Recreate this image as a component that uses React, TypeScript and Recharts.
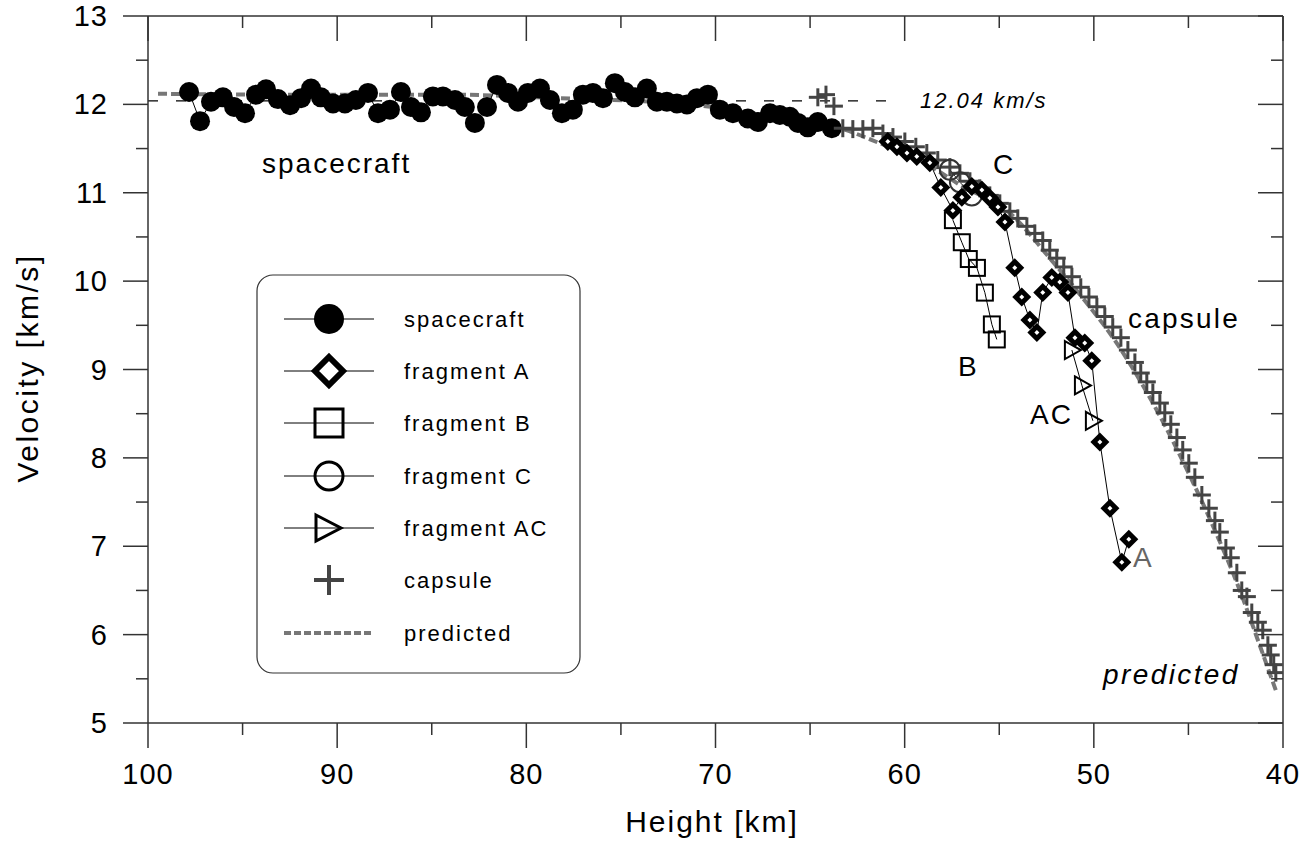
import React from "react";
import { ComposedChart, XAxis, YAxis, Scatter, Line, ReferenceLine } from "recharts";

const FONT = "'Liberation Sans', Arial, sans-serif";

const xTicks = [100, 95, 90, 85, 80, 75, 70, 65, 60, 55, 50, 45, 40];
const yTicks = [5, 5.5, 6, 6.5, 7, 7.5, 8, 8.5, 9, 9.5, 10, 10.5, 11, 11.5, 12, 12.5, 13];

const spacecraftH = [
  97.83, 97.25, 96.67, 96.04, 95.45, 94.87, 94.29, 93.76, 93.13, 92.49, 91.91, 91.38, 90.86, 90.22,
  89.59, 89.01, 88.37, 87.84, 87.21, 86.63, 86.1, 85.57, 84.94, 84.41, 83.77, 83.25, 82.72, 82.08,
  81.55, 80.97, 80.44, 79.92, 79.28, 78.75, 78.12, 77.54, 77.01, 76.48, 75.95, 75.32, 74.79, 74.26,
  73.63, 73.1, 72.57, 72.04, 71.51, 70.98, 70.4, 69.77, 69.08, 68.29, 67.76, 67.12, 66.6, 66.07,
  65.64, 65.12, 64.59, 63.85,
];
const spacecraftV = [
  12.14, 11.81, 12.03, 12.08, 11.97, 11.9, 12.11, 12.17, 12.06, 11.99, 12.07, 12.18, 12.08, 12.01,
  12.01, 12.05, 12.13, 11.9, 11.94, 12.14, 11.97, 11.91, 12.09, 12.09, 12.05, 11.97, 11.79, 11.97,
  12.22, 12.13, 12.03, 12.13, 12.18, 12.05, 11.9, 11.94, 12.11, 12.13, 12.07, 12.24, 12.14, 12.08,
  12.18, 12.03, 12.03, 12.01, 12.0, 12.07, 12.11, 11.94, 11.9, 11.84, 11.8, 11.9, 11.88, 11.86,
  11.79, 11.74, 11.8, 11.73,
];

const fragAH = [
  60.89, 60.41, 59.88, 59.36, 58.67, 58.09, 57.45, 56.98, 56.45, 55.92, 55.5, 55.07, 54.7, 54.18,
  53.81, 53.38, 53.01, 52.7, 52.22, 51.8, 51.37, 51.0, 50.48, 50.11, 49.68, 49.15, 48.52, 48.15,
];
const fragAV = [
  11.58, 11.52, 11.45, 11.41, 11.34, 11.06, 10.8, 10.95, 11.07, 11.03, 10.94, 10.84, 10.67, 10.15,
  9.82, 9.56, 9.42, 9.87, 10.04, 9.99, 9.87, 9.36, 9.3, 9.1, 8.18, 7.43, 6.82, 7.08,
];

const fragBH = [57.45, 56.98, 56.61, 56.18, 55.76, 55.39, 55.13];
const fragBV = [10.69, 10.44, 10.25, 10.15, 9.87, 9.51, 9.34];

const fragCH = [57.61, 57.08, 56.45];
const fragCV = [11.26, 11.12, 10.97];

const fragACH = [51.16, 50.63, 50.05];
const fragACV = [9.22, 8.82, 8.42];

const capsuleH = [
  64.59, 64.16, 63.74, 63.27, 62.74, 62.21, 61.68, 61.15, 60.62, 59.99, 59.41, 58.83, 58.25, 57.61,
  57.08, 56.55, 56.03, 55.5, 54.97, 54.44, 54.02, 53.54, 53.12, 52.7, 52.33, 51.96, 51.59, 51.16,
  50.69, 50.26, 49.84, 49.42, 49.0, 48.57, 48.2, 47.83, 47.52, 47.2, 46.88, 46.51, 46.25, 45.93,
  45.61, 45.3, 44.98, 44.66, 44.29, 43.92, 43.6, 43.34, 43.02, 42.76, 42.44, 42.18, 41.91, 41.65,
  41.33, 41.07, 40.8, 40.65, 40.49, 40.38,
];
const capsuleV = [
  12.08, 12.11, 11.98, 11.73, 11.72, 11.72, 11.73, 11.67, 11.63, 11.58, 11.52, 11.45, 11.37, 11.29,
  11.22, 11.13, 11.05, 10.97, 10.88, 10.79, 10.71, 10.62, 10.54, 10.46, 10.35, 10.26, 10.16, 10.05,
  9.93, 9.82, 9.71, 9.6, 9.48, 9.36, 9.22, 9.08, 8.96, 8.86, 8.74, 8.62, 8.51, 8.38,
  8.23, 8.09, 7.94, 7.78, 7.58, 7.43, 7.29, 7.16, 6.98, 6.87, 6.7, 6.5, 6.43, 6.25,
  6.14, 6.05, 5.88, 5.77, 5.66, 5.57,
];

const predictedH = [
  99.47, 91.97, 84.04, 78.22, 71.35, 69.24, 66.07, 63.43, 61.31, 59.2, 57.08, 54.44, 52.33, 50.48,
  48.89, 47.57, 46.25, 44.93, 43.6, 42.28, 41.23, 40.38,
];
const predictedV = [
  12.12, 12.11, 12.11, 12.07, 12.0, 11.94, 11.82, 11.73, 11.56, 11.37, 11.09, 10.77, 10.26, 9.78,
  9.33, 8.88, 8.37, 7.8, 7.18, 6.5, 5.88, 5.37,
];

const entryVelocity = 12.04;
const entryLineH = [100, 60.5];

const pts = (hs: number[], vs: number[]) => hs.map((h, i) => ({ h, v: vs[i] }));

const spacecraftData = pts(spacecraftH, spacecraftV);
const fragAData = pts(fragAH, fragAV);
const fragBData = pts(fragBH, fragBV);
const fragCData = pts(fragCH, fragCV);
const fragACData = pts(fragACH, fragACV);
const capsuleData = pts(capsuleH, capsuleV);
const predictedData = pts(predictedH, predictedV);

const AXIS = "#333";

// marker shapes
const Dot = ({ cx, cy }: any) => <circle cx={cx} cy={cy} r={10} fill="#000" />;
const Diamond = ({ cx, cy }: any) => (
  <g>
    <polygon points={`${cx},${cy - 9.5} ${cx + 9.5},${cy} ${cx},${cy + 9.5} ${cx - 9.5},${cy}`} fill="#000" />
    <polygon points={`${cx},${cy - 2.5} ${cx + 2.5},${cy} ${cx},${cy + 2.5} ${cx - 2.5},${cy}`} fill="#fff" />
  </g>
);
const Square = ({ cx, cy }: any) => (
  <rect x={cx - 8} y={cy - 8} width={16} height={16} fill="none" stroke="#000" strokeWidth={2} />
);
const Ring = ({ cx, cy }: any) => <circle cx={cx} cy={cy} r={10} fill="none" stroke="#333" strokeWidth={2} />;
const Tri = ({ cx, cy }: any) => (
  <polygon points={`${cx - 7},${cy - 9} ${cx + 9},${cy} ${cx - 7},${cy + 9}`} fill="none" stroke="#000" strokeWidth={2} />
);
const Plus = ({ cx, cy }: any) => (
  <g stroke="#444" strokeWidth={3}>
    <line x1={cx - 9} y1={cy} x2={cx + 9} y2={cy} />
    <line x1={cx} y1={cy - 9} x2={cx} y2={cy + 9} />
  </g>
);

// ticks drawn by hand: major every 10 km / 1 km/s, minor in between
const BottomTick = ({ x, y, payload }: any) => {
  const major = payload.value % 10 === 0;
  return (
    <g>
      <line x1={x} y1={y} x2={x} y2={y + (major ? 25 : 12)} stroke={AXIS} strokeWidth={1.5} />
      {major && (
        <text x={x} y={y + 61} textAnchor="middle" fontFamily={FONT} fontSize={29} letterSpacing={1} fill="#000">
          {payload.value}
        </text>
      )}
    </g>
  );
};
const TopTick = ({ x, y, payload }: any) => {
  const major = payload.value % 10 === 0;
  return <line x1={x} y1={y} x2={x} y2={y + (major ? 25 : 12)} stroke={AXIS} strokeWidth={1.5} />;
};
const LeftTick = ({ x, y, payload }: any) => {
  const major = Number.isInteger(payload.value);
  return (
    <g>
      <line x1={x - (major ? 25 : 12)} y1={y} x2={x} y2={y} stroke={AXIS} strokeWidth={1.5} />
      {major && (
        <text x={x - 40} y={y + 10} textAnchor="end" fontFamily={FONT} fontSize={29} letterSpacing={1} fill="#000">
          {payload.value}
        </text>
      )}
    </g>
  );
};
const RightTick = ({ x, y, payload }: any) => {
  const major = Number.isInteger(payload.value);
  return <line x1={x - (major ? 25 : 12)} y1={y} x2={x} y2={y} stroke={AXIS} strokeWidth={1.5} />;
};

const legendRows = [
  { label: "spacecraft", y: 319 },
  { label: "fragment A", y: 371 },
  { label: "fragment B", y: 423 },
  { label: "fragment C", y: 476 },
  { label: "fragment AC", y: 528 },
  { label: "capsule", y: 580 },
  { label: "predicted", y: 633 },
];

function LegendSymbol({ i, y }: { i: number; y: number }) {
  const cx = 329;
  const line = <line x1={284} y1={y} x2={374} y2={y} stroke="#000" strokeWidth={1} />;
  switch (i) {
    case 0:
      return <g>{line}<circle cx={cx} cy={y} r={15} fill="#000" /></g>;
    case 1:
      return (
        <g>
          {line}
          <polygon points={`${cx},${y - 14} ${cx + 14},${y} ${cx},${y + 14} ${cx - 14},${y}`} fill="#fff" stroke="#000" strokeWidth={6} />
        </g>
      );
    case 2:
      return <g>{line}<rect x={cx - 14} y={y - 14} width={28} height={28} fill="none" stroke="#000" strokeWidth={3} /></g>;
    case 3:
      return <g>{line}<circle cx={cx} cy={y} r={14} fill="none" stroke="#000" strokeWidth={3} /></g>;
    case 4:
      return <g>{line}<polygon points={`${cx - 13},${y - 13} ${cx + 12},${y} ${cx - 13},${y + 13}`} fill="none" stroke="#000" strokeWidth={3} /></g>;
    case 5:
      return (
        <g stroke="#444" strokeWidth={4}>
          <line x1={cx - 15} y1={y} x2={cx + 15} y2={y} />
          <line x1={cx} y1={y - 15} x2={cx} y2={y + 15} />
        </g>
      );
    default:
      return <line x1={284} y1={y} x2={372} y2={y} stroke="#777" strokeWidth={4} strokeDasharray="7 3" />;
  }
}

function Overlay() {
  const t = { fontFamily: FONT, fill: "#000" };
  return (
    <svg width={1310} height={844} style={{ position: "absolute", left: 0, top: 0, pointerEvents: "none" }}>
      <rect x={257} y={275} width={323} height={398} rx={16} fill="#fff" stroke="#333" strokeWidth={1.2} />
      {legendRows.map((r, i) => (
        <g key={r.label}>
          <LegendSymbol i={i} y={r.y} />
          <text x={404} y={r.y + 8} fontSize={22} letterSpacing={2} {...t}>
            {r.label}
          </text>
        </g>
      ))}
      <text x={262} y={173} fontSize={28} letterSpacing={2} {...t}>spacecraft</text>
      <text x={993} y={174} fontSize={28} {...t}>C</text>
      <text x={1128} y={328} fontSize={28} letterSpacing={2.2} {...t}>capsule</text>
      <text x={958} y={376} fontSize={28} {...t}>B</text>
      <text x={1030} y={424} fontSize={28} letterSpacing={2} {...t}>AC</text>
      <text x={1133} y={567} fontSize={28} {...t} fill="#666">A</text>
      <text x={1103} y={684} fontSize={28} fontStyle="italic" letterSpacing={2.4} {...t}>predicted</text>
      <text x={920} y={108} fontSize={22} fontStyle="italic" letterSpacing={2} {...t}>12.04 km/s</text>
      <text x={712} y={832} fontSize={30} letterSpacing={2} textAnchor="middle" {...t}>Height [km]</text>
      <text x={38} y={368} fontSize={30} letterSpacing={2.5} textAnchor="middle" transform="rotate(-90 38 368)" {...t}>
        Velocity [km/s]
      </text>
    </svg>
  );
}

export default function App() {
  const axisLine = { stroke: AXIS, strokeWidth: 1.5 };
  return (
    <div style={{ position: "absolute", left: 0, top: 0, width: 1310, height: 844, background: "#fff" }}>
      <ComposedChart width={1310} height={844} margin={{ top: 15, right: 26, bottom: 0, left: 0 }}>
        <XAxis
          xAxisId="b"
          type="number"
          dataKey="h"
          domain={[40, 100]}
          reversed
          ticks={xTicks}
          interval={0}
          height={121}
          tickSize={0}
          tickMargin={0}
          tickLine={false}
          axisLine={axisLine}
          tick={(p: any) => <BottomTick {...p} />}
          allowDataOverflow
        />
        <XAxis
          xAxisId="t"
          orientation="top"
          type="number"
          dataKey="h"
          domain={[40, 100]}
          reversed
          ticks={xTicks}
          interval={0}
          height={1}
          tickSize={0}
          tickMargin={0}
          tickLine={false}
          axisLine={axisLine}
          tick={(p: any) => <TopTick {...p} />}
          allowDataOverflow
        />
        <YAxis
          yAxisId="l"
          type="number"
          dataKey="v"
          domain={[5, 13]}
          ticks={yTicks}
          interval={0}
          width={148}
          tickSize={0}
          tickMargin={0}
          tickLine={false}
          axisLine={axisLine}
          tick={(p: any) => <LeftTick {...p} />}
          allowDataOverflow
        />
        <YAxis
          yAxisId="r"
          orientation="right"
          type="number"
          dataKey="v"
          domain={[5, 13]}
          ticks={yTicks}
          interval={0}
          width={1}
          tickSize={0}
          tickMargin={0}
          tickLine={false}
          axisLine={axisLine}
          tick={(p: any) => <RightTick {...p} />}
          allowDataOverflow
        />
        <ReferenceLine
          xAxisId="b"
          yAxisId="l"
          segment={[
            { x: entryLineH[0], y: entryVelocity },
            { x: entryLineH[1], y: entryVelocity },
          ]}
          stroke="#000"
          strokeWidth={1.2}
          strokeDasharray="10 18"
        />
        <Scatter
          name="spacecraft"
          xAxisId="b"
          yAxisId="l"
          data={spacecraftData}
          line={{ stroke: "#000", strokeWidth: 1 }}
          shape={(p: any) => <Dot {...p} />}
          isAnimationActive={false}
        />
        <Scatter
          name="capsule"
          xAxisId="b"
          yAxisId="l"
          data={capsuleData}
          shape={(p: any) => <Plus {...p} />}
          isAnimationActive={false}
        />
        <Line
          name="predicted"
          xAxisId="b"
          yAxisId="l"
          data={predictedData}
          dataKey="v"
          type="monotone"
          dot={false}
          stroke="#777"
          strokeWidth={4}
          strokeDasharray="9 4"
          isAnimationActive={false}
        />
        <Scatter
          name="fragment C"
          xAxisId="b"
          yAxisId="l"
          data={fragCData}
          line={{ stroke: "#333", strokeWidth: 1 }}
          shape={(p: any) => <Ring {...p} />}
          isAnimationActive={false}
        />
        <Scatter
          name="fragment B"
          xAxisId="b"
          yAxisId="l"
          data={fragBData}
          line={{ stroke: "#000", strokeWidth: 1 }}
          shape={(p: any) => <Square {...p} />}
          isAnimationActive={false}
        />
        <Scatter
          name="fragment AC"
          xAxisId="b"
          yAxisId="l"
          data={fragACData}
          line={{ stroke: "#000", strokeWidth: 1 }}
          shape={(p: any) => <Tri {...p} />}
          isAnimationActive={false}
        />
        <Scatter
          name="fragment A"
          xAxisId="b"
          yAxisId="l"
          data={fragAData}
          line={{ stroke: "#000", strokeWidth: 1 }}
          shape={(p: any) => <Diamond {...p} />}
          isAnimationActive={false}
        />
      </ComposedChart>
      <Overlay />
    </div>
  );
}
